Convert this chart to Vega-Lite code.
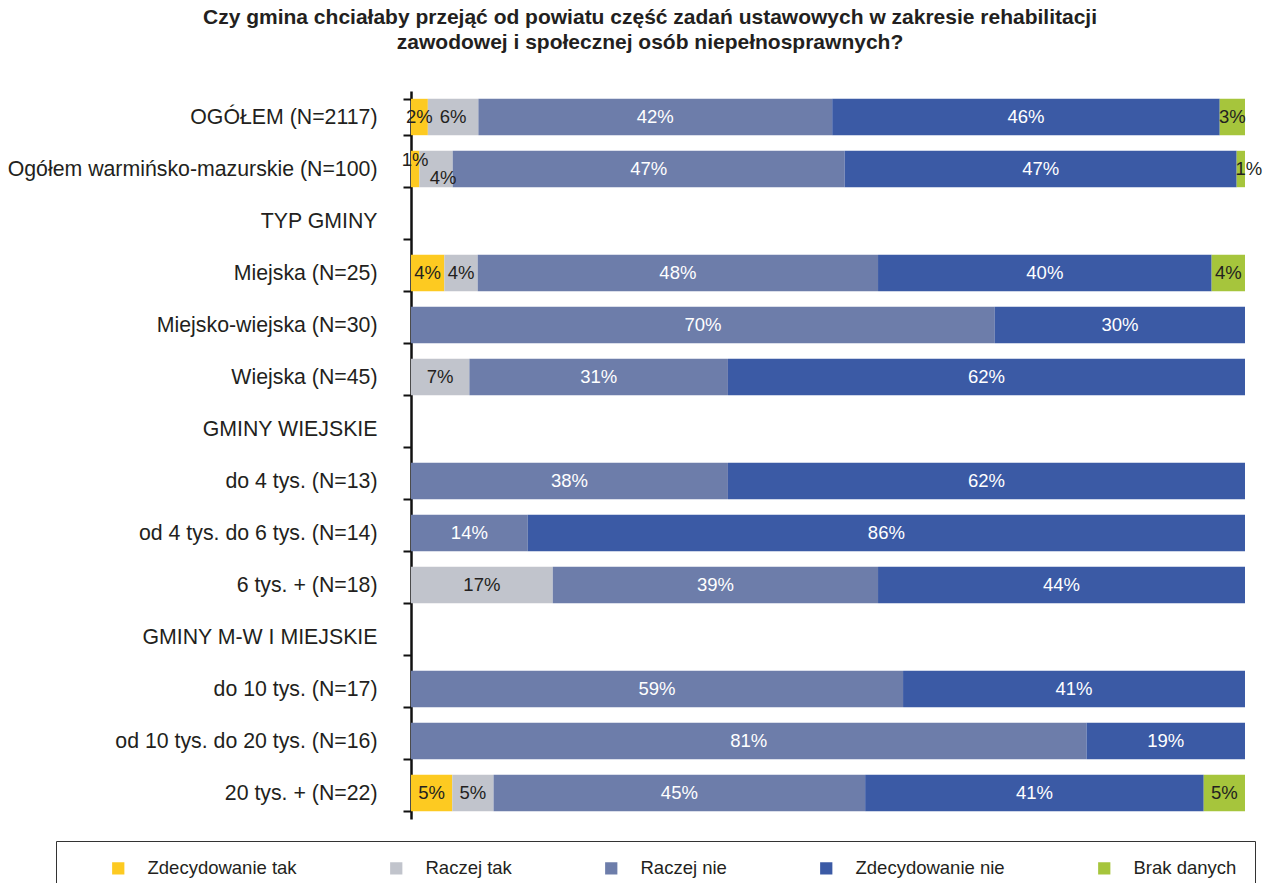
{
  "$schema": "https://vega.github.io/schema/vega-lite/v6.json",
  "autosize": {"type": "none"},
  "padding": {"left": 411, "top": 91, "right": 23, "bottom": 64},
  "width": 834,
  "height": 728,
  "background": "white",
  "config": {
    "font": "Liberation Sans",
    "view": {"stroke": null}
  },
  "title": {
    "text": ["Czy gmina chciałaby przejąć od powiatu część zadań ustawowych w zakresie rehabilitacji", "zawodowej i społecznej osób niepełnosprawnych?"],
    "font": "Liberation Sans",
    "fontSize": 21,
    "fontWeight": "bold",
    "color": "#231F20",
    "anchor": "middle",
    "dx": -178,
    "offset": 27,
    "lineHeight": 25
  },
  "data": {
    "values": [
      {"cat": "OGÓŁEM (N=2117)", "answer": "Zdecydowanie tak", "ord": 1, "p": 0.02},
      {"cat": "OGÓŁEM (N=2117)", "answer": "Raczej tak", "ord": 2, "p": 0.06},
      {"cat": "OGÓŁEM (N=2117)", "answer": "Raczej nie", "ord": 3, "p": 0.42},
      {"cat": "OGÓŁEM (N=2117)", "answer": "Zdecydowanie nie", "ord": 4, "p": 0.46},
      {"cat": "OGÓŁEM (N=2117)", "answer": "Brak danych", "ord": 5, "p": 0.03},
      {"cat": "Ogółem warmińsko-mazurskie (N=100)", "answer": "Zdecydowanie tak", "ord": 1, "p": 0.01},
      {"cat": "Ogółem warmińsko-mazurskie (N=100)", "answer": "Raczej tak", "ord": 2, "p": 0.04},
      {"cat": "Ogółem warmińsko-mazurskie (N=100)", "answer": "Raczej nie", "ord": 3, "p": 0.47},
      {"cat": "Ogółem warmińsko-mazurskie (N=100)", "answer": "Zdecydowanie nie", "ord": 4, "p": 0.47},
      {"cat": "Ogółem warmińsko-mazurskie (N=100)", "answer": "Brak danych", "ord": 5, "p": 0.01},
      {"cat": "Miejska (N=25)", "answer": "Zdecydowanie tak", "ord": 1, "p": 0.04},
      {"cat": "Miejska (N=25)", "answer": "Raczej tak", "ord": 2, "p": 0.04},
      {"cat": "Miejska (N=25)", "answer": "Raczej nie", "ord": 3, "p": 0.48},
      {"cat": "Miejska (N=25)", "answer": "Zdecydowanie nie", "ord": 4, "p": 0.40},
      {"cat": "Miejska (N=25)", "answer": "Brak danych", "ord": 5, "p": 0.04},
      {"cat": "Miejsko-wiejska (N=30)", "answer": "Raczej nie", "ord": 3, "p": 0.70},
      {"cat": "Miejsko-wiejska (N=30)", "answer": "Zdecydowanie nie", "ord": 4, "p": 0.30},
      {"cat": "Wiejska (N=45)", "answer": "Raczej tak", "ord": 2, "p": 0.07},
      {"cat": "Wiejska (N=45)", "answer": "Raczej nie", "ord": 3, "p": 0.31},
      {"cat": "Wiejska (N=45)", "answer": "Zdecydowanie nie", "ord": 4, "p": 0.62},
      {"cat": "do 4 tys. (N=13)", "answer": "Raczej nie", "ord": 3, "p": 0.38},
      {"cat": "do 4 tys. (N=13)", "answer": "Zdecydowanie nie", "ord": 4, "p": 0.62},
      {"cat": "od 4 tys. do 6 tys. (N=14)", "answer": "Raczej nie", "ord": 3, "p": 0.14},
      {"cat": "od 4 tys. do 6 tys. (N=14)", "answer": "Zdecydowanie nie", "ord": 4, "p": 0.86},
      {"cat": "6 tys. + (N=18)", "answer": "Raczej tak", "ord": 2, "p": 0.17},
      {"cat": "6 tys. + (N=18)", "answer": "Raczej nie", "ord": 3, "p": 0.39},
      {"cat": "6 tys. + (N=18)", "answer": "Zdecydowanie nie", "ord": 4, "p": 0.44},
      {"cat": "do 10 tys. (N=17)", "answer": "Raczej nie", "ord": 3, "p": 0.59},
      {"cat": "do 10 tys. (N=17)", "answer": "Zdecydowanie nie", "ord": 4, "p": 0.41},
      {"cat": "od 10 tys. do 20 tys. (N=16)", "answer": "Raczej nie", "ord": 3, "p": 0.81},
      {"cat": "od 10 tys. do 20 tys. (N=16)", "answer": "Zdecydowanie nie", "ord": 4, "p": 0.19},
      {"cat": "20 tys. + (N=22)", "answer": "Zdecydowanie tak", "ord": 1, "p": 0.05},
      {"cat": "20 tys. + (N=22)", "answer": "Raczej tak", "ord": 2, "p": 0.05},
      {"cat": "20 tys. + (N=22)", "answer": "Raczej nie", "ord": 3, "p": 0.45},
      {"cat": "20 tys. + (N=22)", "answer": "Zdecydowanie nie", "ord": 4, "p": 0.41},
      {"cat": "20 tys. + (N=22)", "answer": "Brak danych", "ord": 5, "p": 0.05}
    ]
  },
  "encoding": {
    "y": {
      "field": "cat",
      "type": "nominal",
      "title": null,
      "sort": null,
      "scale": {
        "domain": ["OGÓŁEM (N=2117)", "Ogółem warmińsko-mazurskie (N=100)", "TYP GMINY", "Miejska (N=25)", "Miejsko-wiejska (N=30)", "Wiejska (N=45)", "GMINY WIEJSKIE", "do 4 tys. (N=13)", "od 4 tys. do 6 tys. (N=14)", "6 tys. + (N=18)", "GMINY M-W I MIEJSKIE", "do 10 tys. (N=17)", "od 10 tys. do 20 tys. (N=16)", "20 tys. + (N=22)"],
        "paddingInner": 0.3,
        "paddingOuter": 0.15
      },
      "axis": {
        "tickBand": "extent",
        "domainColor": "#111111",
        "domainWidth": 2.5,
        "tickColor": "#111111",
        "tickWidth": 2,
        "tickSize": 8,
        "labelPadding": 26,
        "labelFontSize": 21.3,
        "labelColor": "#231F20",
        "labelFont": "Liberation Sans",
        "labelLimit": 0,
        "grid": false
      }
    },
    "x": {
      "field": "p",
      "type": "quantitative",
      "stack": "normalize",
      "axis": null,
      "scale": {"domain": [0, 1], "nice": false}
    },
    "order": {"field": "ord", "type": "quantitative"}
  },
  "layer": [
    {
      "mark": {"type": "bar"},
      "encoding": {
        "color": {
          "field": "answer",
          "type": "nominal",
          "scale": {
            "domain": ["Zdecydowanie tak", "Raczej tak", "Raczej nie", "Zdecydowanie nie", "Brak danych"],
            "range": ["#FDCA21", "#C1C4CC", "#6D7DAA", "#3B5AA5", "#A6C53C"]
          },
          "legend": {
            "orient": "none",
            "legendX": -355,
            "legendY": 750,
            "direction": "horizontal",
            "title": " ",
            "titleOrient": "left",
            "titleFontSize": 1,
            "titlePadding": 35,
            "padding": 18,
            "strokeColor": "#333333",
            "fillColor": "white",
            "symbolType": "square",
            "symbolSize": 150,
            "symbolStrokeWidth": 0,
            "labelOffset": 20,
            "columnPadding": 90,
            "labelFontSize": 18.5,
            "labelFont": "Liberation Sans",
            "labelColor": "#231F20",
            "labelLimit": 0
          }
        }
      }
    },
    {
      "mark": {"type": "text", "fontSize": 18.5, "font": "Liberation Sans"},
      "encoding": {
        "x": {"field": "p", "type": "quantitative", "stack": "normalize", "bandPosition": 0.5},
        "detail": {"field": "answer"},
        "text": {
          "condition": {"test": "datum.cat === 'Ogółem warmińsko-mazurskie (N=100)' && (datum.answer === 'Zdecydowanie tak' || datum.answer === 'Raczej tak' || datum.answer === 'Brak danych')", "value": ""},
          "field": "p", "type": "quantitative", "format": ".0%"
        },
        "color": {
          "condition": {"test": "datum.answer === 'Raczej nie' || datum.answer === 'Zdecydowanie nie'", "value": "white"},
          "value": "#231F20"
        }
      }
    },
    {
      "mark": {"type": "text", "fontSize": 18.5, "font": "Liberation Sans", "dy": -9, "color": "#231F20"},
      "encoding": {
        "x": {"field": "p", "type": "quantitative", "stack": "normalize", "bandPosition": 0.5},
        "detail": {"field": "answer"},
        "text": {
          "condition": {"test": "datum.cat === 'Ogółem warmińsko-mazurskie (N=100)' && datum.answer === 'Zdecydowanie tak'", "field": "p", "type": "quantitative", "format": ".0%"},
          "value": ""
        }
      }
    },
    {
      "mark": {"type": "text", "fontSize": 18.5, "font": "Liberation Sans", "dx": 7, "dy": 9, "color": "#231F20"},
      "encoding": {
        "x": {"field": "p", "type": "quantitative", "stack": "normalize", "bandPosition": 0.5},
        "detail": {"field": "answer"},
        "text": {
          "condition": {"test": "datum.cat === 'Ogółem warmińsko-mazurskie (N=100)' && datum.answer === 'Raczej tak'", "field": "p", "type": "quantitative", "format": ".0%"},
          "value": ""
        }
      }
    },
    {
      "mark": {"type": "text", "fontSize": 18.5, "font": "Liberation Sans", "dx": 8, "color": "#231F20"},
      "encoding": {
        "x": {"field": "p", "type": "quantitative", "stack": "normalize", "bandPosition": 0.5},
        "detail": {"field": "answer"},
        "text": {
          "condition": {"test": "datum.cat === 'Ogółem warmińsko-mazurskie (N=100)' && datum.answer === 'Brak danych'", "field": "p", "type": "quantitative", "format": ".0%"},
          "value": ""
        }
      }
    }
  ]
}
